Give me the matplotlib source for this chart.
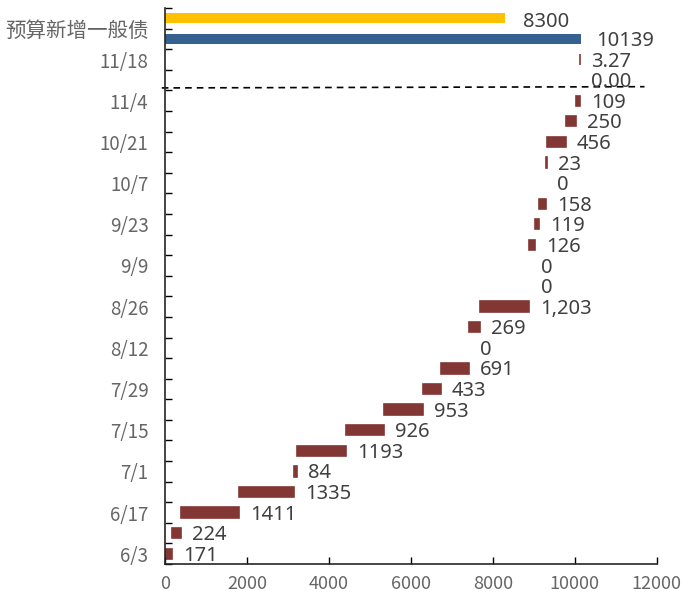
import numpy as np
import matplotlib
matplotlib.use("Agg")
import matplotlib.pyplot as plt

# 每周新增一般债（亿元），自下而上
weeks = ["6/3", "6/10", "6/17", "6/24", "7/1", "7/8", "7/15", "7/22", "7/29",
         "8/5", "8/12", "8/19", "8/26", "9/2", "9/9", "9/16", "9/23", "9/30",
         "10/7", "10/14", "10/21", "10/28", "11/4", "11/11", "11/18"]
weekly = [171, 224, 1411, 1335, 84, 1193, 926, 953, 433, 691, 0, 269, 1203,
          0, 0, 126, 119, 158, 0, 23, 456, 250, 109, 0.00, 3.27]
weekly_labels = ["171", "224", "1411", "1335", "84", "1193", "926", "953", "433",
                 "691", "0", "269", "1,203", "0", "0", "126", "119", "158", "0",
                 "23", "456", "250", "109", "0.00", "3.27"]
total_issued = 10139
budget_new = 8300
budget_label = "预算新增一般债"

C_RED = "#833735"
C_BLUE = "#35608f"
C_YELLOW = "#ffc000"
C_TXT = "#404040"
C_TICK = "#666666"

plt.rcParams["font.family"] = ["Noto Sans CJK SC", "DejaVu Sans"]

fig = plt.figure(figsize=(6.82, 5.99), dpi=100)
ax = fig.add_axes([0.242, 0.0584, 0.721, 0.9282])

n = len(weekly)
y = np.arange(n)
base = np.concatenate([[0], np.cumsum(weekly)[:-1]])
h = 0.5

shown = np.array(weekly) > 0
ax.barh(y[shown], np.array(weekly)[shown], left=base[shown], height=h,
        color=C_RED, edgecolor=C_RED, linewidth=1.2)
ax.barh(n, total_issued, height=h, color=C_BLUE, edgecolor="none")
ax.barh(n + 1, budget_new, height=h, color=C_YELLOW, edgecolor="none")

lab_kw = dict(textcoords="offset points", va="center", ha="left",
              fontsize=14.5, color=C_TXT, family="Noto Sans")
for yi, b, v, t in zip(y, base, weekly, weekly_labels):
    ax.annotate(t, (b + v, yi), xytext=(8, -1.5), **lab_kw)
ax.annotate(str(total_issued), (total_issued, n), xytext=(11, -1.5), **lab_kw)
ax.annotate(str(budget_new), (budget_new, n + 1), xytext=(13, -2.5), **lab_kw)

# 虚线分隔
ax.plot([-80, 11700], [22.62, 22.68], ls=(0, (4, 3)), color="black", lw=1.2,
        clip_on=False)

ax.set_xlim(0, 12000)
ax.set_ylim(-0.5, n + 1.5)
ax.set_xticks(np.arange(0, 12001, 2000))
ax.tick_params(axis="x", direction="in", length=5, width=1, pad=8,
               labelsize=13, labelcolor=C_TICK)

ax.yaxis.remove_overlapping_locs = False
ax.set_yticks(np.arange(-0.5, n + 2, 1))
ax.set_yticklabels([])
ax.tick_params(axis="y", which="major", direction="in", length=5, width=1)
ax.set_yticks(list(range(0, n, 2)) + [n + 0.5], minor=True)
ylabs = ax.set_yticklabels(weeks[::2] + [budget_label], minor=True)
ax.tick_params(axis="y", which="minor", length=0, pad=12,
               labelsize=13.5, labelcolor=C_TICK)
ylabs[-1].set_fontsize(14.8)

for s in ["top", "right"]:
    ax.spines[s].set_visible(False)
for s in ["left", "bottom"]:
    ax.spines[s].set_linewidth(1.2)
    ax.spines[s].set_color("#262626")

fig.savefig("out.png", dpi=100)
